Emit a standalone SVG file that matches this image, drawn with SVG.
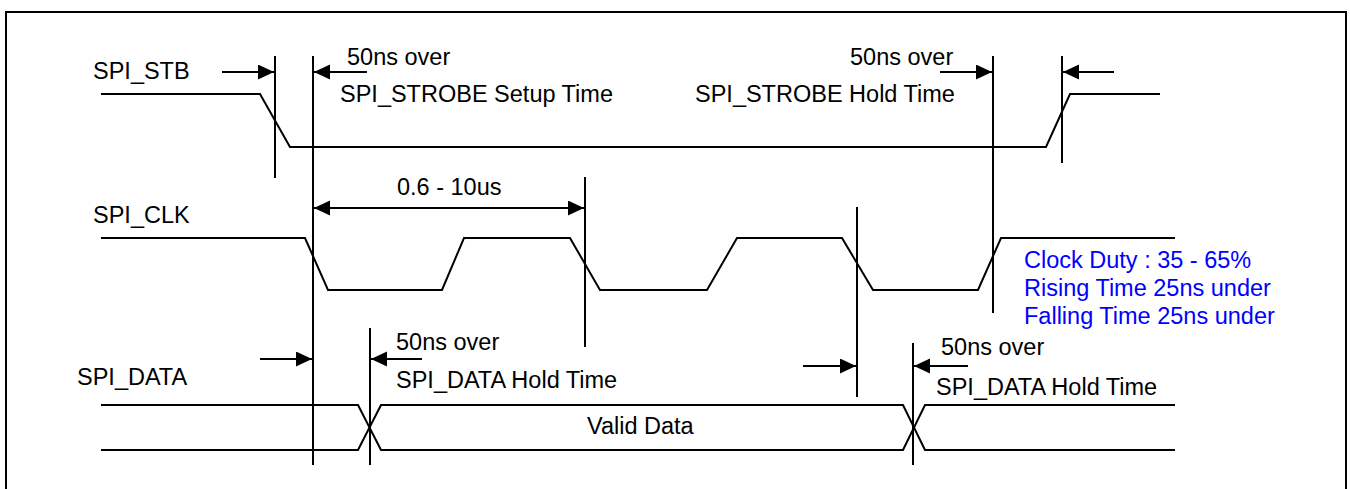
<svg xmlns="http://www.w3.org/2000/svg" width="1350" height="489" viewBox="0 0 1350 489">
<style>
text{font-family:"Liberation Sans",Arial,sans-serif;font-size:23.5px;fill:#000}
.blue{fill:#0000FF}
.w{fill:none;stroke:#000;stroke-width:2;stroke-linejoin:miter}
.v{stroke:#000;stroke-width:2;fill:none}
.a{stroke:#000;stroke-width:2;fill:none;marker-end:url(#ah)}
.d{stroke:#000;stroke-width:2;fill:none;marker-end:url(#ah);marker-start:url(#ah)}
</style>
<defs>
<marker id="ah" markerUnits="userSpaceOnUse" markerWidth="17" markerHeight="16" refX="16" refY="7.5" orient="auto-start-reverse">
<path d="M0,0 L16,7.5 L0,15 z" fill="#000"/>
</marker>
</defs>
<rect id="frame" x="6" y="12" width="1340" height="490" fill="#fff" stroke="#000" stroke-width="2"/>
<g id="spi_stb">
<text x="93" y="79">SPI_STB</text>
<polyline class="w" points="101,94 260,94 290,147 1046,147 1070,94 1160,94"/>
</g>
<g id="spi_clk">
<text x="93" y="223">SPI_CLK</text>
<polyline class="w" points="101,238 305,238 328,290 442,290 464,238 570,238 600,290 707,290 737,238 842,238 873,290 978,290 1001,238 1175,238"/>
</g>
<g id="spi_data">
<text x="77" y="385">SPI_DATA</text>
<polyline class="w" points="101,405 358,405 381,450 903,450 925,405 1175,405"/>
<polyline class="w" points="101,450 358,450 381,405 903,405 925,450 1175,450"/>
<text x="587" y="434">Valid Data</text>
</g>
<g id="clock_note">
<text class="blue" x="1024" y="268">Clock Duty : 35 - 65%</text>
<text class="blue" x="1024" y="296">Rising Time 25ns under</text>
<text class="blue" x="1024" y="324">Falling Time 25ns under</text>
</g>
<g id="labels">
<text x="347" y="65">50ns over</text>
<text x="340" y="102">SPI_STROBE Setup Time</text>
<text x="850" y="65">50ns over</text>
<text x="695" y="102">SPI_STROBE Hold Time</text>
<text x="397" y="195">0.6 - 10us</text>
<text x="396" y="350">50ns over</text>
<text x="396" y="388">SPI_DATA Hold Time</text>
<text x="941" y="355">50ns over</text>
<text x="936" y="395">SPI_DATA Hold Time</text>
</g>
<g id="connectors">
<line class="v" x1="275" y1="56" x2="275" y2="178"/>
<line class="v" x1="313" y1="56" x2="313" y2="465"/>
<line class="v" x1="993" y1="56" x2="993" y2="313"/>
<line class="v" x1="1062" y1="56" x2="1062" y2="163"/>
<line class="v" x1="585" y1="177" x2="585" y2="347"/>
<line class="v" x1="857" y1="207" x2="857" y2="397"/>
<line class="v" x1="370" y1="328" x2="370" y2="465"/>
<line class="v" x1="913" y1="343" x2="913" y2="465"/>
<line class="a" x1="222" y1="72" x2="274" y2="72"/>
<line class="a" x1="367" y1="72" x2="314" y2="72"/>
<line class="a" x1="940" y1="72" x2="992" y2="72"/>
<line class="a" x1="1114" y1="72" x2="1063" y2="72"/>
<line class="d" x1="314" y1="208" x2="584" y2="208"/>
<line class="a" x1="260" y1="359" x2="312" y2="359"/>
<line class="a" x1="422" y1="359" x2="371" y2="359"/>
<line class="a" x1="803" y1="366" x2="856" y2="366"/>
<line class="a" x1="968" y1="366" x2="914" y2="366"/>
</g>
</svg>
